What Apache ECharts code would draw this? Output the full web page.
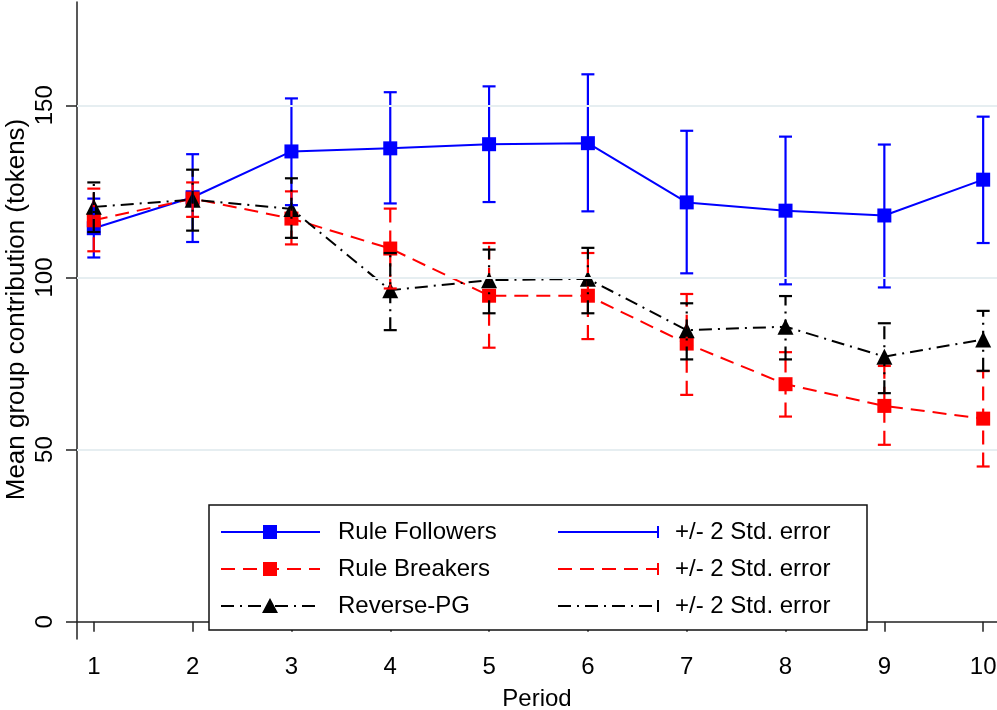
<!DOCTYPE html>
<html>
<head>
<meta charset="utf-8">
<script src="https://cdn.jsdelivr.net/npm/echarts@6/dist/echarts.min.js"></script>
<style>
  html, body { margin: 0; padding: 0; background: #fff; }
  #chart { width: 997px; height: 710px; }
</style>
</head>
<body>
<div id="chart"></div>
<script>
// periods on the x axis
const periods = [1, 2, 3, 4, 5, 6, 7, 8, 9, 10]
const yTicks = [0, 50, 100, 150]

// Rule Followers (mean, +/- 2 s.e.)
const followersMean = [114.3, 123.3, 136.6, 137.5, 138.7, 139.0, 121.8, 119.4, 118.0, 128.4]
const followersLow = [105.8, 110.3, 121.0, 121.5, 121.9, 119.2, 101.2, 98.0, 97.1, 110.0]
const followersHigh = [122.9, 135.8, 152.0, 153.8, 155.5, 159.0, 142.6, 140.9, 138.6, 146.7]

// Rule Breakers
const breakersMean = [116.6, 122.9, 117.1, 108.4, 94.7, 94.7, 80.8, 69.0, 62.7, 59.0]
const breakersLow = [107.6, 117.6, 109.6, 96.8, 79.6, 82.1, 65.9, 59.6, 51.4, 45.1]
const breakersHigh = [125.8, 127.6, 125.0, 120.0, 110.0, 107.1, 95.2, 78.3, 74.3, 72.8]

// Reverse-PG
const reverseMean = [120.5, 122.6, 119.9, 96.3, 99.2, 99.6, 84.7, 85.7, 77.0, 82.0]
const reverseLow = [113.2, 113.6, 111.5, 84.7, 89.6, 89.6, 76.2, 76.2, 66.4, 72.9]
const reverseHigh = [127.6, 131.3, 128.8, 107.1, 108.1, 108.6, 92.5, 94.6, 86.7, 90.3]

const FONT = '"Liberation Sans", Arial, Helvetica, sans-serif'
const BLUE = '#0000ff'
const RED = '#ff0000'
const BLACK = '#000000'
const DASH = [14, 8]
const DASHDOT = [13, 6, 2, 6]

const chart = echarts.init(document.getElementById('chart'))

function lineSeries(name, color, dash, symbol, size, values) {
  return {
    name: name,
    type: 'line',
    z: 2,
    data: periods.map((p, i) => [p, values[i]]),
    symbol: symbol,
    symbolSize: size,
    showAllSymbol: true,
    lineStyle: { color: color, width: 2, type: dash || 'solid' },
    itemStyle: { color: color },
    emphasis: { disabled: true }
  }
}

function errorBars(name, color, dash, low, high) {
  return {
    name: name,
    type: 'custom',
    z: 3,
    data: periods.map((p, i) => [p, low[i], high[i]]),
    encode: { x: 0, y: [1, 2] },
    renderItem: function (params, api) {
      const x = api.value(0)
      const lo = api.coord([x, api.value(1)])
      const hi = api.coord([x, api.value(2)])
      const cap = 6.5
      const style = { stroke: color, lineWidth: 2.2, fill: null }
      return {
        type: 'group',
        children: [
          { type: 'line', shape: { x1: lo[0], y1: lo[1], x2: hi[0], y2: hi[1] },
            style: Object.assign({}, style, { lineDash: dash }) },
          { type: 'line', shape: { x1: lo[0] - cap, y1: lo[1], x2: lo[0] + cap, y2: lo[1] }, style: style },
          { type: 'line', shape: { x1: hi[0] - cap, y1: hi[1], x2: hi[0] + cap, y2: hi[1] }, style: style }
        ]
      }
    }
  }
}

// hand-built legend (two columns, framed box)
function legendGraphic() {
  const rows = [
    { y: 532, color: BLUE, dash: null, label: 'Rule Followers', marker: 'rect' },
    { y: 569, color: RED, dash: DASH, label: 'Rule Breakers', marker: 'rect' },
    { y: 606, color: BLACK, dash: DASHDOT, label: 'Reverse-PG', marker: 'triangle' }
  ]
  const els = [{
    type: 'rect',
    shape: { x: 209, y: 505, width: 658, height: 125 },
    style: { fill: '#fff', stroke: '#111', lineWidth: 1.5 },
    z: 10
  }]
  rows.forEach(r => {
    els.push({ type: 'line', z: 11, shape: { x1: 221, y1: r.y, x2: 320, y2: r.y },
      style: { stroke: r.color, lineWidth: 2, lineDash: r.dash } })
    if (r.marker === 'rect') {
      els.push({ type: 'rect', z: 12, shape: { x: 263, y: r.y - 7, width: 14, height: 14 },
        style: { fill: r.color } })
    } else {
      els.push({ type: 'polygon', z: 12,
        shape: { points: [[270, r.y - 8], [278, r.y + 7], [262, r.y + 7]] },
        style: { fill: r.color } })
    }
    els.push({ type: 'text', z: 12, x: 338, y: r.y,
      style: { text: r.label, font: '24px ' + FONT, fill: '#000', verticalAlign: 'middle' } })
    // error-bar key
    els.push({ type: 'line', z: 11, shape: { x1: 558, y1: r.y, x2: 658, y2: r.y },
      style: { stroke: r.color, lineWidth: 2, lineDash: r.dash } })
    els.push({ type: 'line', z: 11, shape: { x1: 658, y1: r.y - 6, x2: 658, y2: r.y + 6 },
      style: { stroke: r.color, lineWidth: 2 } })
    els.push({ type: 'text', z: 12, x: 675, y: r.y,
      style: { text: '+/- 2 Std. error', font: '24px ' + FONT, fill: '#000', verticalAlign: 'middle' } })
  })
  return els
}

const option = {
  animation: false,
  backgroundColor: '#fff',
  textStyle: { fontFamily: FONT },
  grid: { left: 77, right: 0, top: 2, bottom: 71, containLabel: false, outerBoundsMode: 'none' },
  xAxis: {
    type: 'value',
    min: 0.83,
    max: 10.14,
    name: 'Period',
    nameLocation: 'middle',
    nameGap: 48,
    nameMoveOverlap: false,
    nameTextStyle: { fontSize: 24, color: '#000', fontFamily: FONT },
    axisLine: { lineStyle: { color: '#222', width: 1.5 } },
    axisTick: { length: 10, lineStyle: { color: '#222', width: 1.5 }, customValues: periods },
    axisLabel: { fontSize: 24, color: '#000', margin: 16, customValues: periods, fontFamily: FONT },
    splitLine: { show: false }
  },
  yAxis: {
    type: 'value',
    min: -5,
    max: 180,
    name: 'Mean group contribution (tokens)',
    nameLocation: 'middle',
    nameGap: 47,
    nameMoveOverlap: false,
    nameTextStyle: { fontSize: 26, color: '#000', fontFamily: FONT, padding: [0, 0, 0, 22] },
    axisLine: { show: true, lineStyle: { color: '#222', width: 1.5 } },
    axisTick: { show: true, length: 11, lineStyle: { color: '#222', width: 1.5 }, customValues: yTicks },
    axisLabel: { fontSize: 24, color: '#000', margin: 20, rotate: 90, customValues: yTicks, fontFamily: FONT },
    splitLine: { show: false }
  },
  graphic: legendGraphic(),
  series: [
    {
      type: 'line',
      data: [],
      silent: true,
      markLine: {
        silent: true,
        symbol: 'none',
        label: { show: false },
        lineStyle: { color: '#e6eef1', width: 2, type: 'solid' },
        data: [{ yAxis: 50 }, { yAxis: 100 }, { yAxis: 150 }]
      },
      z: 1
    },
    lineSeries('Rule Followers', BLUE, null, 'rect', 14, followersMean),
    lineSeries('Rule Breakers', RED, DASH, 'rect', 14, breakersMean),
    lineSeries('Reverse-PG', BLACK, DASHDOT, 'triangle', 16, reverseMean),
    errorBars('Followers s.e.', BLUE, null, followersLow, followersHigh),
    errorBars('Breakers s.e.', RED, DASH, breakersLow, breakersHigh),
    errorBars('Reverse-PG s.e.', BLACK, DASHDOT, reverseLow, reverseHigh)
  ]
}

chart.setOption(option)
</script>
</body>
</html>
